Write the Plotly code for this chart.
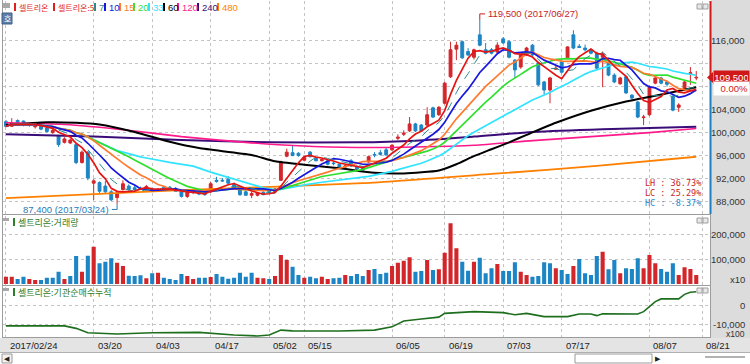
import numpy as np
import pandas as pd
import plotly.graph_objects as go

W, H = 750, 364

# ---------------- data ----------------
tick_idx = [0, 15, 25, 35, 45, 51, 66, 75, 85, 95, 110, 119]
tick_text = ["2017/02/24", "03/20", "04/03", "04/17", "05/02", "05/15",
             "06/05", "06/19", "07/03", "07/17", "08/07", "08/21"]

opens = [101800, 101000, 102000, 101900, 101300, 100900, 101000, 100700, 99900, 99300,
         98200, 98100, 97800, 94700, 96500, 91100, 91200, 90600, 89600, 88600,
         90000, 90600, 90300, 90200, 90000, 90100, 89900, 90400, 90400, 90200,
         89600, 88800, 89500, 89500, 89500, 89600, 91600, 91600, 91800, 90900,
         89900, 89600, 89000, 89000, 89500, 89700, 89600, 91600, 95800, 96400,
         96300, 95100, 96500, 95400, 95000, 95000, 94600, 94400, 93900, 95000,
         94000, 93800, 94800, 96100, 96400, 96900, 96900, 98900, 99600, 100200,
         101400, 101200, 101200, 104200, 103000, 105000, 109600, 114400, 115700, 114000,
         113000, 116900, 114300, 114300, 113900, 116200, 115700, 112500, 111300, 113400,
         115100, 112000, 108700, 107300, 110900, 112200, 112900, 116900, 114900, 114600,
         114300, 113700, 113000, 112000, 109900, 108400, 109600, 106400, 105200, 102500,
         103000, 108500, 109400, 108700, 106100, 104300, 107300, 110100, 109400]
highs = [102100, 102400, 102200, 102000, 101600, 101300, 101200, 100900, 100600, 99500,
         99100, 98800, 97900, 96800, 96700, 91800, 91400, 91500, 89900, 89800,
         91600, 90900, 90700, 90500, 90800, 90300, 90200, 90600, 90600, 90400,
         89900, 89700, 89900, 89800, 89700, 91300, 92200, 92000, 92300, 91200,
         90000, 89900, 89600, 89500, 89700, 90200, 90300, 95000, 97100, 97700,
         96500, 95700, 96700, 95600, 95400, 95200, 94900, 94600, 94300, 95300,
         94200, 94100, 95900, 96500, 96900, 97300, 97900, 99600, 100300, 102600,
         101600, 101400, 104300, 104400, 104500, 108700, 115700, 115700, 115900, 114600,
         114500, 119500, 115500, 114600, 115600, 116500, 116000, 112700, 113600, 114800,
         115300, 112200, 108900, 109600, 111500, 112500, 114900, 117700, 115300, 115200,
         114500, 114000, 114000, 112300, 110200, 109600, 109800, 106600, 105400, 103000,
         108100, 109800, 109600, 108900, 106400, 105000, 108900, 111300, 110600]
lows = [100800, 100900, 101200, 101000, 100900, 100600, 100300, 99900, 99700, 97400,
        98000, 97900, 94400, 94500, 91600, 88200, 89400, 89400, 88000, 87400,
        89800, 89800, 89800, 89900, 89800, 89700, 89600, 89800, 89700, 89600,
        88600, 88500, 89200, 89000, 88900, 89400, 91200, 91300, 90900, 90000,
        88900, 88900, 88500, 88800, 89000, 89400, 89500, 91500, 95600, 95800,
        95700, 94900, 95600, 94900, 94900, 94200, 94200, 93700, 93800, 93900,
        93400, 93200, 94600, 95600, 95900, 95900, 96700, 98600, 99300, 100000,
        100000, 100000, 101000, 102400, 102800, 104800, 109400, 112500, 112700, 113200,
        112600, 114900, 113500, 113500, 113700, 115300, 112800, 109400, 111000, 113200,
        113200, 108000, 106500, 105000, 110900, 110200, 112700, 114400, 114600, 114000,
        113500, 110900, 107800, 109700, 108500, 108200, 106600, 105600, 102400, 101200,
        102800, 108300, 108300, 107900, 103600, 103500, 107100, 108200, 109000]
closes = [101000, 101600, 101400, 101300, 101200, 101100, 100500, 100100, 100300, 97800,
          98800, 98600, 94700, 96500, 92000, 91500, 89700, 89600, 88200, 89400,
          91000, 90000, 90000, 90100, 90500, 89900, 90000, 90000, 89900, 89700,
          88800, 89500, 89600, 89200, 89100, 91000, 91400, 91500, 91100, 90200,
          89100, 89000, 89300, 89400, 89100, 89500, 90100, 94800, 96500, 95900,
          95900, 95600, 95700, 95000, 95200, 94400, 94500, 93900, 94100, 94100,
          93600, 93400, 95700, 96000, 96100, 96000, 97700, 99100, 99800, 101400,
          100200, 100200, 103000, 102600, 104300, 108500, 114300, 115100, 112900, 113400,
          114300, 115100, 113700, 113700, 115100, 115500, 113000, 110800, 113400, 114600,
          113400, 108200, 107300, 109400, 111100, 110400, 114800, 114600, 114700, 114300,
          113700, 111100, 113600, 109900, 108700, 109400, 106800, 105900, 102600, 102600,
          107800, 109400, 108500, 108300, 103800, 104700, 108700, 110300, 109500]

volume = [29000, 29000, 20000, 29000, 20000, 16000, 16000, 25000, 25000, 49000,
          20000, 32000, 112000, 49000, 113000, 149000, 83000, 89000, 103000, 85000,
          72000, 33000, 32000, 35000, 23000, 43000, 45000, 25000, 20000, 16000,
          40000, 32000, 20000, 25000, 25000, 28000, 40000, 29000, 21000, 25000,
          45000, 29000, 45000, 25000, 23000, 20000, 32000, 116000, 96000, 69000,
          36000, 25000, 29000, 23000, 29000, 20000, 23000, 25000, 36000, 32000,
          40000, 32000, 56000, 60000, 40000, 45000, 72000, 85000, 93000, 107000,
          49000, 52000, 96000, 56000, 59000, 125000, 243000, 143000, 89000, 53000,
          89000, 105000, 43000, 63000, 80000, 52000, 52000, 87000, 49000, 36000,
          29000, 32000, 87000, 83000, 63000, 56000, 40000, 72000, 100000, 43000,
          36000, 112000, 129000, 59000, 96000, 43000, 63000, 60000, 103000, 63000,
          116000, 83000, 60000, 49000, 83000, 36000, 67000, 60000, 36000]
vol_up = [1, 1, 0, 0, 1, 1, 0, 0, 0, 0,
          1, 0, 0, 1, 0, 1, 0, 0, 0, 1,
          1, 0, 0, 0, 1, 0, 1, 0, 0, 0,
          0, 1, 1, 0, 0, 1, 0, 0, 0, 0,
          0, 0, 0, 1, 1, 0, 1, 1, 1, 0,
          0, 1, 0, 0, 1, 1, 0, 0, 1, 0,
          0, 0, 1, 0, 0, 0, 1, 1, 1, 1,
          0, 0, 1, 0, 1, 1, 1, 1, 0, 0,
          1, 0, 0, 0, 1, 0, 0, 0, 1, 1,
          0, 0, 0, 0, 1, 0, 0, 1, 0, 0,
          0, 0, 1, 0, 0, 1, 0, 0, 0, 1,
          1, 1, 0, 0, 0, 1, 1, 1, 1]

ma60_idx = [0, 7, 12, 16, 22, 28, 33, 42, 46, 51, 57, 63, 68, 74, 77, 80, 83, 86, 89, 94, 100, 106, 111, 118]
ma60_val = [101200, 101700, 101600, 101300, 100000, 98300, 97200, 96000, 94900, 94300, 93700, 92900,
            92800, 93300, 94400, 95800, 97000, 98200, 99500, 101600, 103700, 105300, 106300, 107800]
ma120_idx = [0, 10, 20, 30, 41, 50, 60, 70, 80, 90, 100, 110, 118]
ma120_val = [101600, 101300, 100400, 99200, 98200, 97600, 97300, 97400, 97700, 98500, 99200, 99900, 100600]
ma240_idx = [0, 15, 30, 45, 60, 70, 80, 90, 102, 118]
ma240_val = [99600, 99200, 98600, 98200, 98200, 98500, 99200, 100000, 100500, 100900]
ma480_idx = [0, 30, 61, 83, 101, 118]
ma480_val = [88500, 89900, 91100, 92700, 94100, 95700]

# institutional net-buying cumulative (x100), sampled
inst_idx = [0, 5, 10, 12, 14, 19, 25, 33, 39, 43, 45, 47, 49, 57, 63, 66, 68, 71, 74, 75,
            80, 85, 87, 89, 92, 96, 98, 100, 101, 102, 108, 109, 111, 112, 115, 116, 117, 118]
inst_val = [-11000, -10900, -11000, -12300, -14600, -15300, -14600, -14400, -15800, -16300,
            -15800, -13200, -13600, -13700, -13200, -11500, -8400, -7400, -6400, -4400,
            -3500, -4000, -5100, -4400, -6100, -6100, -4700, -4700, -5600, -4600,
            -4700, -3500, 1800, 3200, 3200, 5600, 6700, 7000]

price_ticks = [88000, 92000, 96000, 100000, 104000, 108000, 112000, 116000]
vol_ticks = [100000, 200000]
inst_ticks = [-10000, 0]
short_periods = [5, 7, 10, 15, 20, 33]
legend_periods = [5, 7, 10, 15, 20, 33, 60, 120, 240, 480]
name = "셀트리온"
hi_date, lo_date = "2017/06/27", "2017/03/24"
change_pct = 0.00

# ---------------- helpers ----------------
def px(x):
    return x / W

def py(y):
    return 1 - y / H

RED = "#d3262b"
BLUE = "#1c85c5"
idx = list(range(len(closes)))
NUMFONT = "Liberation Sans, Arial, sans-serif"
KRFONT = "Noto Sans CJK KR, sans-serif"

ma_colors = {5: "#e51414", 7: "#2a8c8c", 10: "#1818dc", 15: "#ff7a30", 20: "#2ee02e",
             33: "#30e4ff", 60: "#000000", 120: "#ff1a8c", 240: "#3a0c78", 480: "#ff8000"}

fig = go.Figure()

fig.add_trace(go.Candlestick(
    x=idx, open=opens, high=highs, low=lows, close=closes,
    increasing=dict(line=dict(color=RED, width=1), fillcolor=RED),
    decreasing=dict(line=dict(color=BLUE, width=1), fillcolor=BLUE),
    whiskerwidth=0, xaxis="x", yaxis="y"))

for per, xs, ys, w in [(480, ma480_idx, ma480_val, 1.8), (240, ma240_idx, ma240_val, 2.0),
                       (120, ma120_idx, ma120_val, 1.6), (60, ma60_idx, ma60_val, 2.0)]:
    fig.add_trace(go.Scatter(x=xs, y=ys, mode="lines",
                             line=dict(color=ma_colors[per], width=w, shape="spline", smoothing=0.6),
                             xaxis="x", yaxis="y"))

cs = pd.Series(closes, dtype=float)
for per in sorted(short_periods, reverse=True):
    ma = cs.rolling(per, min_periods=1).mean()
    fig.add_trace(go.Scatter(
        x=idx, y=ma, mode="lines",
        line=dict(color=ma_colors[per], width=1.0 if per == 7 else 1.7,
                  dash="dash" if per == 7 else "solid"),
        xaxis="x", yaxis="y"))

fig.add_trace(go.Bar(x=idx, y=volume, marker=dict(color=[RED if u else BLUE for u in vol_up], line_width=0),
                     xaxis="x2", yaxis="y2"))

fig.add_trace(go.Scatter(x=inst_idx, y=inst_val, mode="lines", line=dict(color="#1d6e1d", width=1.6),
                         xaxis="x3", yaxis="y3"))

# ---------------- axes ----------------
grid = dict(showgrid=True, gridcolor="#c4c4c4", griddash="dot", gridwidth=1,
            zeroline=False, showline=False, ticks="", showticklabels=False, fixedrange=True)
xc = dict(range=[-0.5, 120.35], tickvals=tick_idx, domain=[px(3), px(710)], **grid)

fig.update_layout(
    width=W, height=H, margin=dict(l=0, r=0, t=0, b=0),
    plot_bgcolor="white", paper_bgcolor="white", showlegend=False, hovermode=False,
    bargap=0.3,
    xaxis=dict(anchor="y", rangeslider=dict(visible=False), **xc),
    xaxis2=dict(anchor="y2", matches="x", **xc),
    xaxis3=dict(anchor="y3", matches="x", **xc),
    yaxis=dict(domain=[py(214), py(1)], range=[85739, 122783], tickvals=price_ticks, **grid),
    yaxis2=dict(domain=[py(285), py(216)], range=[-4000, 272000], tickvals=vol_ticks, **grid),
    yaxis3=dict(domain=[py(338), py(287)], range=[-17368, 9474], tickvals=inst_ticks, **grid),
)

shapes = []
ann = []

# background areas
shapes.append(dict(type="rect", xref="paper", yref="paper", x0=px(711), x1=1, y0=py(338), y1=1,
                   fillcolor="#dcdcdc", line_width=0, layer="below"))
shapes.append(dict(type="rect", xref="paper", yref="paper", x0=0, x1=1, y0=py(352), y1=py(338),
                   fillcolor="#e4e4e4", line_width=0, layer="below"))
# panel separators / borders
for yy in [214.5, 285.5, 337.5]:
    shapes.append(dict(type="line", xref="paper", yref="paper", x0=px(2), x1=px(711), y0=py(yy), y1=py(yy),
                       line=dict(color="#9c9c9c", width=1)))
shapes.append(dict(type="line", xref="paper", yref="paper", x0=px(2.5), x1=px(2.5), y0=py(338), y1=1,
                   line=dict(color="#9c9c9c", width=1)))
shapes.append(dict(type="line", xref="paper", yref="paper", x0=px(710.5), x1=px(710.5), y0=py(338), y1=py(214),
                   line=dict(color="#9c9c9c", width=1)))
shapes.append(dict(type="line", xref="paper", yref="paper", x0=0, x1=1, y0=py(352.5), y1=py(352.5),
                   line=dict(color="#b0b0b0", width=1)))

last = closes[-1]
hi = max(highs)
lo = min(lows)
hi_i = highs.index(hi)
lo_i = lows.index(lo)
ppx = 1000 / 5.75  # won per pixel in main panel

# current price bar on right edge
shapes.append(dict(type="line", xref="paper", yref="y", x0=px(710.5), x1=px(710.5), y0=last, y1=122783,
                   line=dict(color="#d01818", width=2)))
shapes.append(dict(type="line", xref="paper", yref="y", x0=px(710.5), x1=px(710.5), y0=85739, y1=last,
                   line=dict(color="#1f7fc0", width=2)))
shapes.append(dict(type="path", xref="paper", yref="y",
                   path=f"M {px(707)} {last} L {px(713)} {last + 5.5 * ppx} L {px(713)} {last - 5.5 * ppx} Z",
                   fillcolor="#d01818", line_width=0))

# price tick labels
for v in price_ticks:
    if abs(v - last) > 2500:
        ann.append(dict(xref="paper", yref="y", x=px(747), y=v, xanchor="right", yanchor="middle",
                        text=f"{v:,}", showarrow=False, font=dict(family=NUMFONT, size=9.5, color="#333")))
ann.append(dict(xref="paper", yref="y", x=px(713), y=last, xanchor="left", yanchor="middle",
                text=f"{last:,}", showarrow=False, bgcolor="#d01818", width=33, align="center",
                borderpad=1, font=dict(family=NUMFONT, size=9.5, color="white")))
ann.append(dict(xref="paper", yref="y", x=px(713), y=last, yshift=-11, xanchor="left", yanchor="middle",
                text=f"{change_pct:.2f}%", showarrow=False, bgcolor="white", width=33, align="right",
                borderpad=1, font=dict(family=NUMFONT, size=9.5, color="#d01818")))

for v in vol_ticks:
    ann.append(dict(xref="paper", yref="y2", x=px(747), y=v, xanchor="right", yanchor="middle",
                    text=f"{v:,}", showarrow=False, font=dict(family=NUMFONT, size=9.5, color="#333")))
ann.append(dict(xref="paper", yref="paper", x=px(747), y=py(279), xanchor="right", yanchor="middle",
                text="x10", showarrow=False, font=dict(family=NUMFONT, size=9.5, color="#333")))
for v in inst_ticks:
    ann.append(dict(xref="paper", yref="y3", x=px(747), y=v, xanchor="right", yanchor="middle",
                    text=f"{v:,}", showarrow=False, font=dict(family=NUMFONT, size=9.5, color="#333")))
ann.append(dict(xref="paper", yref="paper", x=px(747), y=py(334), xanchor="right", yanchor="middle",
                text="x100", showarrow=False, font=dict(family=NUMFONT, size=8.5, color="#333")))

# x tick labels
for i, t in zip(tick_idx, tick_text):
    ann.append(dict(xref="x", yref="paper", x=i, xshift=2, y=py(345), xanchor="left", yanchor="middle",
                    text=t, showarrow=False, font=dict(family=NUMFONT, size=9.5, color="#222")))

# legend row at top
leg_x = [14, 53, 94, 104, 119, 133, 148, 163, 177, 197, 217]
leg_items = [(name, "#e01e1e")] + [((f"{name}:{p}" if k == 0 else str(p)),
                                     ma_colors[p] if k > 0 else "#e01e1e")
                                    for k, p in enumerate(legend_periods)]
for (txt, col), xx in zip(leg_items, leg_x):
    shapes.append(dict(type="rect", xref="paper", yref="paper", x0=px(xx), x1=px(xx + 2),
                       y0=py(11), y1=py(3), fillcolor=col, line_width=0))
    isnum = txt.isdigit()
    ann.append(dict(xref="paper", yref="paper", x=px(xx + 3), y=py(7), xanchor="left", yanchor="middle",
                    text=txt, showarrow=False,
                    font=dict(family=NUMFONT if isnum else KRFONT, size=9.5 if isnum else 8, color=col)))

# top-left widgets
shapes.append(dict(type="rect", xref="paper", yref="paper", x0=px(3), x1=px(10), y0=py(8), y1=py(3),
                   fillcolor="#a8a8a8", line_width=0))
shapes.append(dict(type="rect", xref="paper", yref="paper", x0=px(2), x1=px(12), y0=py(24), y1=py(13),
                   fillcolor="#5d80a8", line=dict(color="#3d5f86", width=1)))
ann.append(dict(xref="paper", yref="paper", x=px(7), y=py(18.5), xanchor="center", yanchor="middle",
                text="호", showarrow=False, font=dict(family=KRFONT, size=8, color="white")))

# panel titles
for yy, txt in [(222, f"{name}:거래량"), (292, f"{name}:기관순매수누적")]:
    shapes.append(dict(type="rect", xref="paper", yref="paper", x0=px(3), x1=px(9), y0=py(yy - 1), y1=py(yy - 4),
                       fillcolor="#a8a8a8", line_width=0))
    shapes.append(dict(type="rect", xref="paper", yref="paper", x0=px(13), x1=px(15), y0=py(yy + 4), y1=py(yy - 4),
                       fillcolor="#2d7d2d", line_width=0))
    ann.append(dict(xref="paper", yref="paper", x=px(16), y=py(yy), xanchor="left", yanchor="middle",
                    text=txt, showarrow=False, font=dict(family=KRFONT, size=9, color="#2d7d2d")))

# panel corner buttons
for yy in [4, 218, 288]:
    for xx in [697, 703]:
        shapes.append(dict(type="rect", xref="paper", yref="paper", x0=px(xx), x1=px(xx + 5),
                           y0=py(yy + 5), y1=py(yy), fillcolor="#e8e8e8", line=dict(color="#a0a0a0", width=1)))

# high / low markers
hy = hi + 6 * ppx
shapes.append(dict(type="line", xref="x", yref="y", x0=hi_i, x1=hi_i, y0=hi, y1=hy, line=dict(color="#c81e1e", width=1)))
shapes.append(dict(type="line", xref="x", yref="y", x0=hi_i, x1=hi_i + 0.9, y0=hy, y1=hy, line=dict(color="#c81e1e", width=1)))
ann.append(dict(xref="x", yref="y", x=hi_i + 1.0, y=hy, xanchor="left", yanchor="middle",
                text=f"{hi:,} ({hi_date})", showarrow=False, font=dict(family=NUMFONT, size=9.5, color="#c81e1e")))
ly = lo - 5 * ppx
shapes.append(dict(type="line", xref="x", yref="y", x0=lo_i, x1=lo_i, y0=lo, y1=ly, line=dict(color="#2a7ab8", width=1)))
shapes.append(dict(type="line", xref="x", yref="y", x0=lo_i - 0.9, x1=lo_i, y0=ly, y1=ly, line=dict(color="#2a7ab8", width=1)))
ann.append(dict(xref="x", yref="y", x=lo_i - 1.1, y=ly, xanchor="right", yanchor="middle",
                text=f"{lo:,} ({lo_date})", showarrow=False, font=dict(family=NUMFONT, size=9.5, color="#2a7ab8")))

# LH / LC / HC
lh = (hi - lo) / lo * 100
lc = (last - lo) / lo * 100
hc = (last - hi) / hi * 100
for yy, txt, col in [(183, f"LH : {lh:.2f}%", "#c81e1e"), (193, f"LC : {lc:.2f}%", "#c81e1e"),
                     (203, f"HC : {hc:.2f}%", "#2a8ad0")]:
    ann.append(dict(xref="paper", yref="paper", x=px(703), y=py(yy), xanchor="right", yanchor="middle",
                    text=txt, showarrow=False, font=dict(family="DejaVu Sans Mono, monospace", size=8.5, color=col)))

# bottom scrollbar strip
shapes.append(dict(type="rect", xref="paper", yref="paper", x0=px(2), x1=px(12), y0=py(363), y1=py(354),
                   fillcolor="#f2f2f2", line=dict(color="#9a9a9a", width=1)))
ann.append(dict(xref="paper", yref="paper", x=px(7), y=py(358.5), xanchor="center", yanchor="middle",
                text="◀", showarrow=False, font=dict(family="DejaVu Sans", size=7, color="#222")))
shapes.append(dict(type="rect", xref="paper", yref="paper", x0=px(575), x1=px(652), y0=py(363), y1=py(354),
                   fillcolor="white", line=dict(color="#9a9a9a", width=1)))
ann.append(dict(xref="paper", yref="paper", x=px(658), y=py(358.5), xanchor="center", yanchor="middle",
                text="▶", showarrow=False, font=dict(family="DejaVu Sans", size=7, color="#222")))
shapes.append(dict(type="line", xref="paper", yref="paper", x0=px(705), x1=px(745), y0=py(357), y1=py(357),
                   line=dict(color="#666", width=1)))

fig.update_layout(shapes=shapes, annotations=ann)
fig.write_html("out.html", include_plotlyjs=True,
               config={"displayModeBar": False, "staticPlot": True},
               post_script="document.body.style.margin='0';document.body.style.overflow='hidden';")
